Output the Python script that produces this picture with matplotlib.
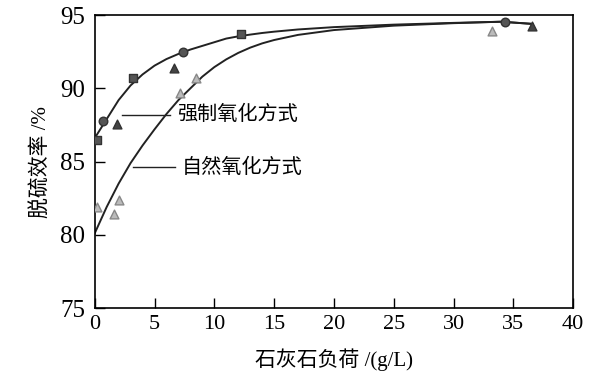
import matplotlib
matplotlib.use('Agg')
import matplotlib.pyplot as plt

plt.rcParams['font.family'] = ['Liberation Serif', 'Noto Sans CJK SC', 'DejaVu Sans']

# 强制氧化方式 measured points
forced_sq_x = [0.2, 3.2, 12.2]
forced_sq_y = [86.5, 90.7, 93.7]
forced_ci_x = [0.7, 7.4, 34.3]
forced_ci_y = [87.8, 92.5, 94.5]
forced_tr_x = [1.9, 6.6, 36.6]
forced_tr_y = [87.6, 91.4, 94.25]

# 自然氧化方式 measured points
natural_x = [0.2, 1.6, 2.0, 7.1, 8.5, 33.2]
natural_y = [81.9, 81.4, 82.4, 89.7, 90.7, 93.9]

# trend curves
curve_x = [0, 1, 2, 3, 4, 5, 6, 7, 8, 9, 10, 11, 12, 13, 14, 15, 17, 20, 25, 30, 34, 36.6]
forced_curve = [86.6, 87.9, 89.2, 90.2, 90.95, 91.55, 92.0, 92.35, 92.65, 92.9, 93.15,
                93.4, 93.55, 93.67, 93.78, 93.87, 94.02, 94.18, 94.35, 94.47, 94.55, 94.4]
natural_curve = [80.1, 81.9, 83.5, 84.9, 86.1, 87.2, 88.25, 89.2, 90.0, 90.8, 91.45,
                 91.98, 92.42, 92.78, 93.07, 93.3, 93.65, 93.98, 94.28, 94.45, 94.55, 94.4]

fig = plt.figure(figsize=(6.11, 3.78), dpi=100)
ax = fig.add_axes([0.155, 0.185, 0.783, 0.775])

ax.plot(curve_x, forced_curve, color='#222222', lw=1.4)
ax.plot(curve_x, natural_curve, color='#222222', lw=1.4)

ax.scatter(forced_sq_x, forced_sq_y, marker='s', s=34, c='#555555', edgecolors='#333333', zorder=3)
ax.scatter(forced_ci_x, forced_ci_y, marker='o', s=38, c='#555555', edgecolors='#333333', zorder=3)
ax.scatter(forced_tr_x, forced_tr_y, marker='^', s=40, c='#444444', edgecolors='#333333', zorder=3)
ax.scatter(natural_x, natural_y, marker='^', s=40, c='#bbbbbb', edgecolors='#888888', zorder=3)

# label leaders
ax.plot([2.3, 6.3], [88.2, 88.2], color='#222222', lw=1.0)
ax.text(6.9, 88.2, '强制氧化方式', fontsize=14.5, va='center', ha='left',
        family=['Noto Sans CJK SC'])
ax.plot([3.2, 6.7], [84.6, 84.6], color='#222222', lw=1.0)
ax.text(7.3, 84.6, '自然氧化方式', fontsize=14.5, va='center', ha='left',
        family=['Noto Sans CJK SC'])

ax.set_xlim(0, 40)
ax.set_ylim(75, 95)
ax.set_xticks(range(0, 41, 5))
ax.set_yticks(range(75, 96, 5))
ax.tick_params(direction='in', length=7, width=1.0)
ax.tick_params(axis='x', labelsize=16, pad=5)
ax.tick_params(axis='y', labelsize=18, pad=7)
for s in ax.spines.values():
    s.set_linewidth(1.2)

ax.set_xlabel('石灰石负荷 /(g/L)', fontsize=15, labelpad=10)
ax.set_ylabel('脱硫效率 /%', fontsize=15, labelpad=6)

fig.savefig('out.png', dpi=100)
